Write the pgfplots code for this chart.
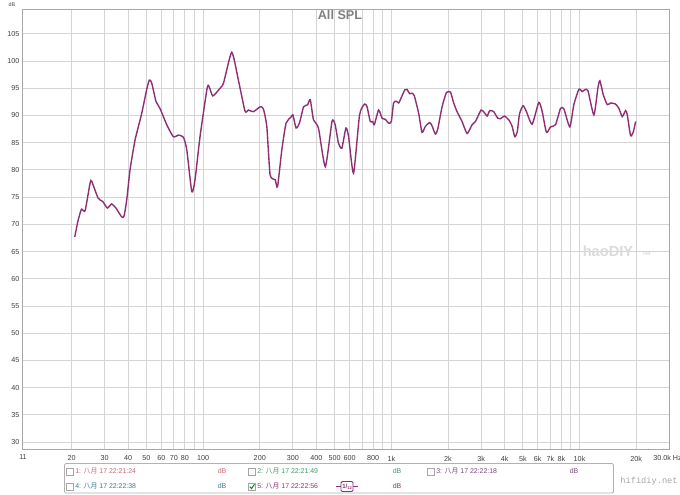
\documentclass[border=0pt]{standalone}
\usepackage{fontspec}
\setmainfont{Liberation Sans}
\newfontfamily\cjk{Noto Sans CJK SC}
\newfontfamily\mono{Liberation Mono}
\usepackage{pgfplots}
\pgfplotsset{compat=1.18}

\definecolor{trace}{HTML}{8E2F73}
\definecolor{gridc}{HTML}{D4D4D4}
\definecolor{framec}{HTML}{A8A8A8}
\definecolor{c1}{HTML}{C86A78}
\definecolor{c2}{HTML}{3E9A6A}
\definecolor{c3}{HTML}{7A4A7E}
\definecolor{c4}{HTML}{3A7E8A}
\definecolor{c5}{HTML}{8E2F73}

% legend entry: x, y (pixels), colour, label text
\newcommand{\entry}[4]{%
  \draw[gray!70, line width=0.6pt] (#1-3.5,#2-3.5) rectangle (#1+3.5,#2+3.5);
  \node[anchor=west, text=#3, font=\fontsize{5.2pt}{6pt}\selectfont, inner sep=0] at (#1+5,#2) {#4};}

\begin{document}
\begin{tikzpicture}
\useasboundingbox (0,0) rectangle (510pt,370.5pt);
\fill[white] (0,0) rectangle (510pt,370.5pt);

\begin{axis}[
    at={(17pt,33.2pt)}, anchor=south west,
    scale only axis,
    width=485pt, height=330.3pt,
    xmode=log,
    xmin=11, xmax=30000,
    ymin=28.6, ymax=109.5,
    axis line style={framec, line width=1.1pt},
    grid=major,
    major grid style={gridc, line width=0.7pt},
    major tick length=0pt,
    log ticks with fixed point,
    xtick={20,30,40,50,60,70,80,90,100,200,300,400,500,600,700,800,900,1000,2000,3000,4000,5000,6000,7000,8000,9000,10000,20000},
    xticklabels={20,30,40,50,60,70,80,,100,200,300,400,500,600,,800,,1k,2k,3k,4k,5k,6k,7k,8k,,10k,20k},
    ytick={30,35,...,105},
    /pgf/number format/assume math mode=true,
    tick label style={font=\fontsize{5.4pt}{6pt}\selectfont, text=black!75},
    xticklabel style={yshift=-1pt},
    yticklabel style={xshift=1pt},
]
\addplot[trace, line width=1.05pt, smooth, tension=0.35] coordinates {
(20.8,67.7) (21.7,70.8) (22.6,72.8) (23.6,72.5) (25.1,77.6) (25.6,77.9)
(27.7,74.8) (29.3,74.2) (31.0,73.0) (32.7,73.75) (34.4,73.0) (36.9,71.4)
(38.0,71.5) (39.3,74.5) (40.9,80.0) (43.5,85.5) (47.2,90.4) (50.1,94.7)
(51.8,96.5) (53.3,96.0) (56.2,92.6) (59.0,91.3) (64.1,88.3) (69.5,86.1)
(73.9,86.4) (78.6,86.0) (81.9,83.7) (87.1,76.0) (90.6,78.2) (96.3,86.1)
(105,95.0) (107.7,95.3) (112.6,93.6) (123,95.0) (128.5,96.0) (142,101.6)
(154,96.5) (167,90.8) (174,91.0) (185,90.7) (201,91.6) (209,91.2)
(218,88.0) (227,79.1) (241.5,78.2) (248.5,76.9) (262,83.7) (276,88.6)
(293,89.7) (300,90.1) (312,87.7) (325,88.6) (342,91.6) (359,91.95)
(371,92.9) (386,89.2) (410,87.7) (446,80.6) (484,88.9) (503,88.3)
(524,84.9) (546,84.0) (574,87.7) (593,86.1) (630,79.4) (678,90.1)
(721,92.1) (743,91.6) (773,88.9) (796,88.9) (812,88.3) (856,91.0)
(893,89.5) (929,89.3) (968,88.6) (1000,88.9) (1028,92.3) (1064,92.6)
(1094,92.3) (1117,92.9) (1178,94.7) (1212,94.8) (1251,94.0) (1288,94.1)
(1325,93.6) (1397,90.4) (1456,86.9) (1517,88.0) (1599,88.7) (1645,88.1)
(1713,86.6) (1762,87.4) (1861,91.6) (1962,94.2) (2061,94.3) (2145,92.3)
(2235,90.7) (2375,88.9) (2527,86.7) (2687,88.3) (2798,88.9) (3000,91.0)
(3125,90.5) (3229,89.9) (3335,90.9) (3500,90.7) (3675,89.5) (3800,89.4)
(3990,89.9) (4207,89.2) (4385,88.0) (4528,86.1) (4667,87.0) (4800,90.3)
(5012,91.8) (5223,90.7) (5598,88.4) (6075,92.4) (6333,90.7) (6670,86.9)
(7010,87.9) (7453,88.3) (7924,91.3) (8255,91.2) (8881,87.9) (9328,92.0)
(9919,94.8) (10330,94.4) (10640,94.7) (11070,94.6) (11920,90.1) (12510,95.0)
(12820,96.4) (13370,93.8) (14030,92.0) (14620,92.3) (15530,92.1) (16190,91.3)
(16860,89.8) (17570,90.9) (17940,90.1) (18670,86.3) (19310,87.0) (19860,88.9)
};
\end{axis}

% annotations placed in pixel units (origin top left)
\begin{scope}[x=0.75pt, y=-0.75pt, shift={(0pt,370.5pt)}]
  \node[text=black!50, font=\fontsize{9.5pt}{11pt}\selectfont\bfseries] at (340,14.5) {All SPL};
  \node[text=black!70, font=\fontsize{4pt}{5pt}\selectfont] at (12,4.5) {dB};
  \node[text=black!75, font=\fontsize{5.4pt}{6pt}\selectfont, inner sep=0] at (23,457.5) {11};
  \node[anchor=west, text=black!75, font=\fontsize{5.4pt}{6pt}\selectfont, inner sep=0] at (653,457.5) {30.0k Hz};
  % watermarks
  \node[text=black!14, font=\fontsize{11pt}{12pt}\selectfont\bfseries] at (608,251) {haoDIY};
  \node[text=black!18, font=\fontsize{4pt}{5pt}\selectfont] at (646,254) {.net};
  \node[text=black!35, font=\mono\fontsize{6.5pt}{7pt}\selectfont] at (649,481) {hifidiy.net};
  % legend box
  \draw[gray!60, line width=0.6pt, rounded corners=1pt] (64.5,463.5) rectangle (613.5,493);
  \entry{70}{471.5}{c1}{1: {\cjk 八月} 17 22:21:24}
  \entry{252}{471.5}{c2}{2: {\cjk 八月} 17 22:21:49}
  \entry{431}{471.5}{c3}{3: {\cjk 八月} 17 22:22:18}
  \entry{70}{486.5}{c4}{4: {\cjk 八月} 17 22:22:38}
  \entry{252}{486.5}{c5}{5: {\cjk 八月} 17 22:22:56}
  \draw[green!50!black, line width=0.7pt] (249.7,486.7) -- (251.5,488.6) -- (254.5,484.3);
  \begin{scope}[font=\fontsize{5.2pt}{6pt}\selectfont]
    \node[text=c1] at (222,471.5) {dB};
    \node[text=c2] at (397,471.5) {dB};
    \node[text=c3] at (574,471.5) {dB};
    \node[text=c4] at (222,486.5) {dB};
    \node[text=c5] at (397,486.5) {dB};
  \end{scope}
  % resolution icon
  \draw[c5, line width=0.7pt] (336,486.5) -- (358,486.5);
  \draw[c5, line width=0.7pt, fill=white, rounded corners=1pt] (341,481.5) rectangle (353,491.5);
  \node[text=c5, font=\fontsize{4.5pt}{5pt}\selectfont\bfseries, inner sep=0] at (347,486.5) {1/\raisebox{-0.5pt}{\fontsize{3pt}{3pt}\selectfont 12}};
\end{scope}
\end{tikzpicture}
\end{document}
